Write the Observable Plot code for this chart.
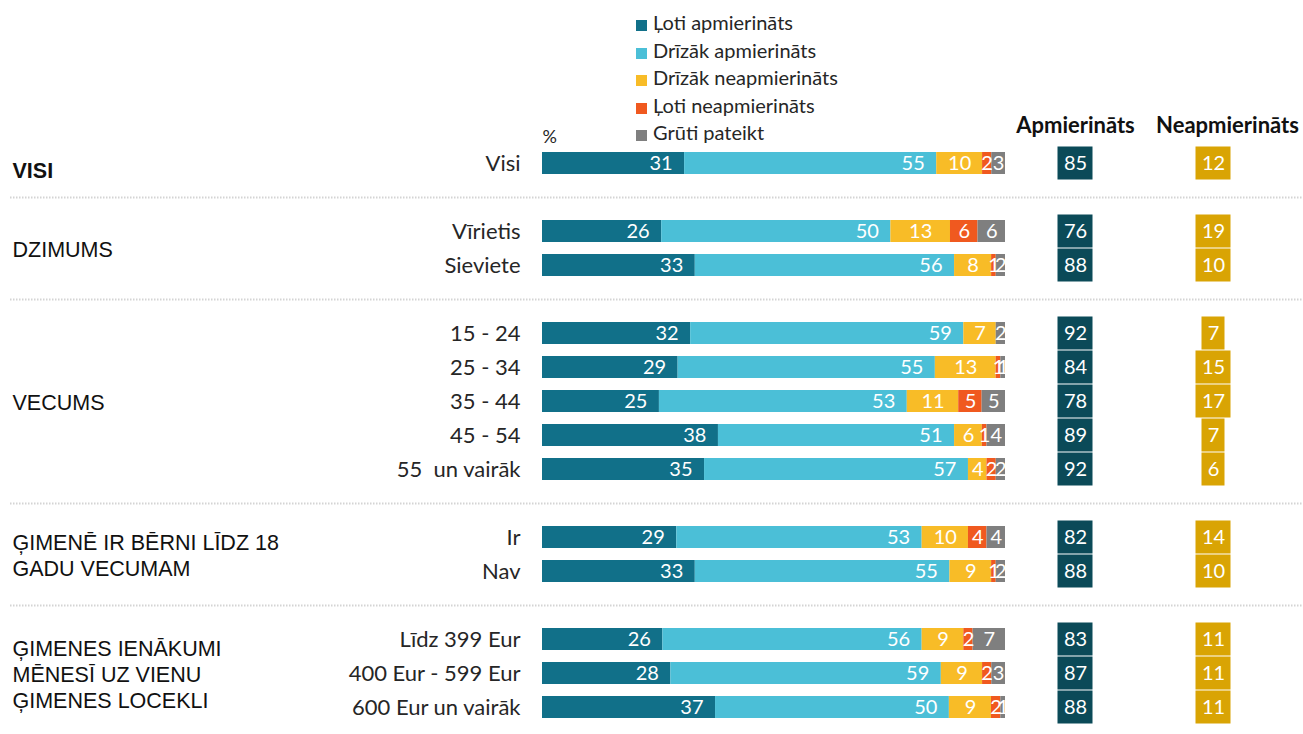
<!DOCTYPE html>
<html>
<head>
<meta charset="utf-8">
<script src="https://cdn.jsdelivr.net/npm/d3@7"></script>
<script src="https://cdn.jsdelivr.net/npm/@observablehq/plot@0.6"></script>
<style>
  body { margin: 0; background: #fff; }
  #wrap { position: relative; width: 1303px; height: 734px; overflow: hidden; }
  #wrap svg { position: absolute; top: 0; overflow: visible; }
  #legend { position: absolute; left: 636px; top: 9px; font-family: Lato, sans-serif; font-size: 20px; color: #262626; z-index: 2; }
  #legend .row { height: 27.5px; line-height: 27.5px; white-space: nowrap; }
  #legend .sw { display: inline-block; width: 11px; height: 11px; margin-right: 6px; vertical-align: -1px; }
</style>
</head>
<body>
<div id="wrap"></div>
<script>
// ---- data ----
const seriesNames = ["Ļoti apmierināts", "Drīzāk apmierināts", "Drīzāk neapmierināts", "Ļoti neapmierināts", "Grūti pateikt"];
const seriesColors = ["#117089", "#4bbfd7", "#f8bc27", "#f0591f", "#7f7f7f"];
const groupNames = ["VISI", "DZIMUMS", "VECUMS", "ĢIMENĒ IR BĒRNI LĪDZ 18\nGADU VECUMAM", "ĢIMENES IENĀKUMI\nMĒNESĪ UZ VIENU\nĢIMENES LOCEKLI"];
const groupRows = [
  ["Visi"],
  ["Vīrietis", "Sieviete"],
  ["15 - 24", "25 - 34", "35 - 44", "45 - 54", "55  un vairāk"],
  ["Ir", "Nav"],
  ["Līdz 399 Eur", "400 Eur - 599 Eur", "600 Eur un vairāk"]
];
const veryS   = [31, 26, 33, 32, 29, 25, 38, 35, 29, 33, 26, 28, 37];
const ratherS = [55, 50, 56, 59, 55, 53, 51, 57, 53, 55, 56, 59, 50];
const ratherD = [10, 13,  8,  7, 13, 11,  6,  4, 10,  9,  9,  9,  9];
const veryD   = [ 2,  6,  1,  0,  1,  5,  1,  2,  4,  1,  2,  2,  2];
const hard    = [ 3,  6,  2,  2,  1,  5,  4,  2,  4,  2,  7,  3,  1];
const satisfied    = [85, 76, 88, 92, 84, 78, 89, 92, 82, 88, 83, 87, 88];
const dissatisfied = [12, 19, 10,  7, 15, 17,  7,  6, 14, 10, 11, 11, 11];
const summaryColumns = ["Apmierināts", "Neapmierināts"];

// ---- derived tables ----
const rows = groupRows.flat();
const seriesValues = [veryS, ratherS, ratherD, veryD, hard];
const stacked = [];
rows.forEach((r, i) => seriesNames.forEach((s, j) => stacked.push({row: r, series: s, si: j, value: seriesValues[j][i]})));
const summary = rows.map((r, i) => ({row: r, sat: satisfied[i], dis: dissatisfied[i]}));
const yDomain = [];
const gapKeys = [];
groupRows.forEach((g, i) => { if (i > 0) { yDomain.push("gap" + i); gapKeys.push("gap" + i); } yDomain.push(...g); });

const H = 734, MT = 144, MB = 9;
const step = (H - MT - MB) / yDomain.length;
const calibri = "Lato, 'Open Sans', sans-serif";
const arial = "'Liberation Sans', Arial, sans-serif";
const dotted = {stroke: "#d4d4d4", strokeWidth: 2, strokeDasharray: "1.5,1.5"};

const stackOpts = {x: "value", y: "row", z: "series", order: seriesNames, offset: "normalize"};

// ---- main plot: bars ----
const plotA = Plot.plot({
  width: 1006, height: H,
  marginLeft: 542, marginRight: 1, marginTop: MT, marginBottom: MB,
  style: {fontFamily: calibri, fontSize: "20px", color: "#262626", overflow: "visible"},
  x: {axis: null},
  y: {axis: null, domain: yDomain, padding: 0},
  color: {domain: seriesNames, range: seriesColors},
  marks: [
    Plot.ruleY(gapKeys, {y: d => d, insetLeft: -532, insetRight: -1, ...dotted}),
    Plot.barX(stacked, Plot.stackX({...stackOpts, fill: "series", insetTop: 6, insetBottom: 6})),
    Plot.text(stacked, Plot.stackX2({...stackOpts, text: d => (d.si < 2 && d.value > 0) ? String(d.value) : null,
      textAnchor: "end", dx: -12, fill: "white", fontSize: 20})),
    Plot.text(stacked, Plot.stackX({...stackOpts, text: d => (d.si >= 2 && d.value > 0) ? String(d.value) : null,
      fill: "white", fontSize: 20})),
    Plot.text(rows, {y: d => d, text: d => d, frameAnchor: "left", textAnchor: "end", dx: -22, fill: "#262626", fontSize: 22}),
    ...groupNames.map((name, i) => {
      const g = groupRows[i];
      const mid = g[Math.floor((g.length - 1) / 2)];
      return Plot.text([name], {y: () => mid, text: d => d, frameAnchor: "left", textAnchor: "start", dx: -530,
        dy: (g.length % 2 === 0 ? step / 2 : 0) + (i === 0 ? 6 : 0), lineHeight: 1.22,
        fontFamily: arial, fontSize: 21.5, fontWeight: i === 0 ? "bold" : "normal", fill: "#111"});
    }),
    Plot.text(["%"], {text: d => d, frameAnchor: "top-left", dy: -14, textAnchor: "start", fontSize: 18, fill: "#262626"})
  ]
});

// ---- summary plot: boxes ----
const plotB = Plot.plot({
  width: 297, height: H,
  marginLeft: 0, marginRight: 21, marginTop: MT, marginBottom: MB,
  style: {fontFamily: calibri, fontSize: "20px", overflow: "visible"},
  x: {axis: null, type: "band", domain: summaryColumns, padding: 0},
  y: {axis: null, domain: yDomain, padding: 0},
  marks: [
    Plot.ruleY(gapKeys, {y: d => d, insetRight: -21, ...dotted}),
    Plot.cell(summary, {x: () => summaryColumns[0], y: "row", fill: "#0b4a58", insetLeft: 51.5, insetRight: 51.5, insetTop: 0.5, insetBottom: 0.5}),
    Plot.cell(summary.filter(d => d.dis >= 10), {x: () => summaryColumns[1], y: "row", fill: "#d9a404", insetLeft: 51.5, insetRight: 51.5, insetTop: 0.5, insetBottom: 0.5}),
    Plot.cell(summary.filter(d => d.dis < 10), {x: () => summaryColumns[1], y: "row", fill: "#d9a404", insetLeft: 57.5, insetRight: 57.5, insetTop: 0.5, insetBottom: 0.5}),
    Plot.text(summary, {x: () => summaryColumns[0], y: "row", text: d => String(d.sat), fill: "white", fontSize: 20}),
    Plot.text(summary, {x: () => summaryColumns[1], y: "row", text: d => String(d.dis), fill: "white", fontSize: 20}),
    Plot.text([summaryColumns[0]], {x: d => d, text: d => d, frameAnchor: "top", dy: -27, fontWeight: "bold", fontSize: 22, fill: "#111"}),
    Plot.text([summaryColumns[1]], {x: d => d, text: d => d, frameAnchor: "top", dy: -27, dx: 14, fontWeight: "bold", fontSize: 22, fill: "#111"})
  ]
});

const wrap = document.getElementById("wrap");
plotA.style.left = "0px";
plotB.style.left = "1006px";
wrap.appendChild(plotA);
wrap.appendChild(plotB);

// ---- legend ----
const legend = document.createElement("div");
legend.id = "legend";
seriesNames.forEach((s, i) => {
  const row = document.createElement("div");
  row.className = "row";
  const sw = document.createElement("span");
  sw.className = "sw";
  sw.style.background = seriesColors[i];
  row.appendChild(sw);
  row.appendChild(document.createTextNode(s));
  legend.appendChild(row);
});
wrap.appendChild(legend);
</script>
</body>
</html>
